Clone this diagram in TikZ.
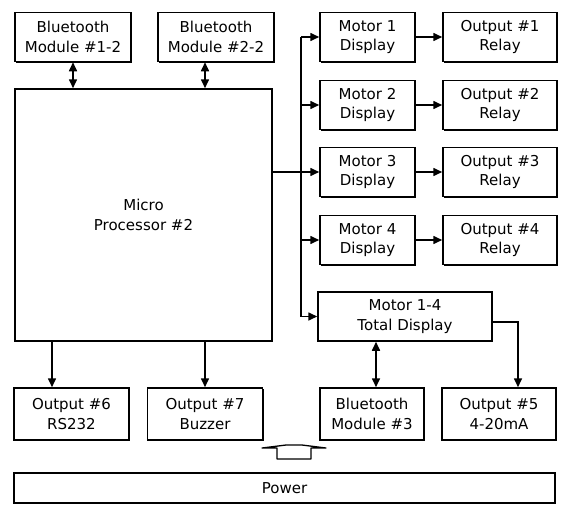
\documentclass[tikz,border=0pt]{standalone}
\usepackage{fontspec}
\setmainfont{DejaVu Sans}
\usetikzlibrary{arrows.meta,shadows}
\begin{document}
\begin{tikzpicture}[x=1pt,y=-1pt,
  blk/.style={draw=black,fill=white,line width=1.5pt,align=center,
    font=\fontsize{15}{19.5}\selectfont,inner sep=0pt,
    drop shadow={shadow xshift=1.2pt,shadow yshift=-1.2pt,opacity=1,fill=black}},
  conn/.style={line width=1.6pt,-{Triangle[length=9pt,width=8pt]}},
  biconn/.style={line width=1.6pt,{Triangle[length=9pt,width=8pt]}-{Triangle[length=9pt,width=8pt]}},
  wire/.style={line width=1.6pt}]
\useasboundingbox (0,0) rectangle (563,506);
% top modules
\node[blk,minimum width=116pt,minimum height=49pt] (bt1) at (73,37) {Bluetooth\\Module \#1-2};
\node[blk,minimum width=116pt,minimum height=49pt] (bt2) at (216,37) {Bluetooth\\Module \#2-2};
\node[blk,minimum width=257pt,minimum height=252pt] (mp) at (143.5,215) {Micro\\Processor \#2};
% motors
\node[blk,minimum width=95pt,minimum height=49pt] (m1) at (367.5,37) {Motor 1\\Display};
\node[blk,minimum width=95pt,minimum height=49pt] (m2) at (367.5,105) {Motor 2\\Display};
\node[blk,minimum width=95pt,minimum height=49pt] (m3) at (367.5,172) {Motor 3\\Display};
\node[blk,minimum width=95pt,minimum height=49pt] (m4) at (367.5,240) {Motor 4\\Display};
\node[blk,minimum width=114pt,minimum height=49pt] (o1) at (500,37) {Output \#1\\Relay};
\node[blk,minimum width=114pt,minimum height=49pt] (o2) at (500,105) {Output \#2\\Relay};
\node[blk,minimum width=114pt,minimum height=49pt] (o3) at (500,172) {Output \#3\\Relay};
\node[blk,minimum width=114pt,minimum height=49pt] (o4) at (500,240) {Output \#4\\Relay};
\node[blk,minimum width=174pt,minimum height=49pt] (tot) at (405,316.5) {Motor 1-4\\Total Display};
% bottom row
\node[blk,minimum width=115pt,minimum height=52pt] (o6) at (71.5,414) {Output \#6\\RS232};
\node[blk,minimum width=115pt,minimum height=52pt] (o7) at (205,414) {Output \#7\\Buzzer};
\node[blk,minimum width=104pt,minimum height=52pt] (bt3) at (372,414) {Bluetooth\\Module \#3};
\node[blk,minimum width=114pt,minimum height=52pt] (o5) at (499,414) {Output \#5\\4-20mA};
\node[blk,minimum width=541pt,minimum height=30pt] (pw) at (284.5,488) {Power};
% bus
\coordinate (bus) at (301,0);
\draw[wire] (m1.west -| bus) -- (tot.west -| bus);
\draw[wire] (mp.east |- m3.west) -- (m3.west -| bus);
\foreach \n in {m1,m2,m3,m4,tot} {\draw[conn] (\n.west -| bus) -- (\n.west);}
\draw[conn] (m1) -- (o1);
\draw[conn] (m2) -- (o2);
\draw[conn] (m3) -- (o3);
\draw[conn] (m4) -- (o4);
% bidirectional
\draw[biconn] (bt1.south) -- (bt1.south |- mp.north);
\draw[biconn] ([xshift=-11pt]bt2.south) -- ([xshift=-11pt]bt2.south |- mp.north);
\draw[biconn] ([xshift=4pt]bt3.north) -- ([xshift=4pt]bt3.north |- tot.south);
% outputs
\draw[conn] ([xshift=-19.5pt]o6.north |- mp.south) -- ([xshift=-19.5pt]o6.north);
\draw[conn] (o7.north |- mp.south) -- (o7.north);
\draw[conn] ([yshift=-5.5pt]tot.east) -| ([xshift=19pt]o5.north);
% power symbol
\draw[line width=1.3pt,fill=white,line join=round] (277,459) -- (277,448) -- (262,448) -- (286,445) -- (302,445) -- (326,448) -- (311,448) -- (311,459) -- cycle;
\end{tikzpicture}
\end{document}
